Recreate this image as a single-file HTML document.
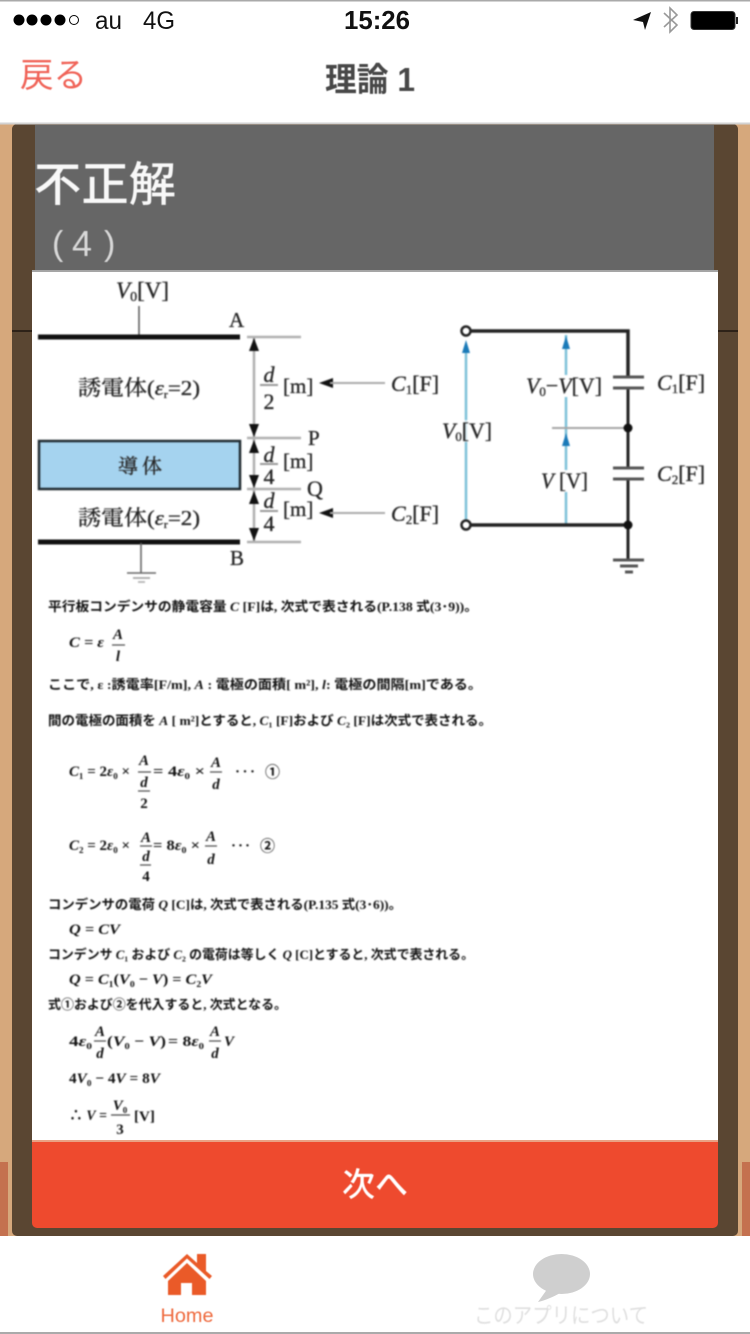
<!DOCTYPE html>
<html lang="ja">
<head>
<meta charset="utf-8">
<style>
html,body{margin:0;padding:0;width:750px;height:1334px;overflow:hidden;background:#fff}
svg{display:block;position:absolute;left:0;top:0}
text{font-family:"Liberation Sans","Noto Sans CJK JP",sans-serif}
.soft{filter:blur(.7px)}
.soft2{filter:blur(.4px)}
.s{font-family:"Liberation Serif","Noto Serif CJK SC","Noto Sans CJK JP",serif;fill:#222;stroke:#333;stroke-width:.35px}
.m{font-family:"Liberation Serif","Noto Sans CJK JP",serif;font-weight:bold;font-size:15px;fill:#111}
.t{font-family:"Liberation Serif","Noto Sans CJK JP",serif;font-weight:bold;font-size:13px;fill:#111}
.i{font-style:italic}
</style>
</head>
<body>
<svg width="750" height="1334" viewBox="0 0 750 1334" xmlns="http://www.w3.org/2000/svg">
  <!-- page background -->
  <rect width="750" height="1334" fill="#fff"/>
  <rect x="0" y="124" width="750" height="1113" fill="#d6a87c"/>
  <rect x="0" y="1162" width="8" height="75" fill="#c4714f"/>
  <rect x="742" y="1162" width="8" height="75" fill="#c4714f"/>
  <rect x="12" y="124" width="726" height="1112" rx="5" fill="#5a4632"/>
  <rect x="12" y="330" width="20" height="2" fill="#2e2218"/>
  <rect x="718" y="330" width="20" height="2" fill="#2e2218"/>
  <rect x="35" y="125" width="679" height="147" fill="#666"/>
  <rect x="32" y="270" width="686" height="3" fill="#a5a5a5"/>
  <rect x="32" y="272" width="686" height="870" fill="#fff"/>
  <rect x="32" y="1140" width="686" height="3" fill="#eaa184"/>
  <path d="M32 1142H718V1223a5 5 0 0 1-5 5H37a5 5 0 0 1-5-5Z" fill="#ee4a2e"/>

  <!-- status bar -->
  <rect width="750" height="1.5" fill="#aaa"/>
  <g fill="#000">
    <circle cx="19" cy="20" r="5.5"/><circle cx="32" cy="20" r="5.5"/><circle cx="46" cy="20" r="5.5"/><circle cx="60" cy="20" r="5.5"/>
  </g>
  <circle cx="74" cy="20" r="4.5" fill="none" stroke="#000" stroke-width="1"/>
  <text x="95" y="29" font-size="25" fill="#111" textLength="27" lengthAdjust="spacingAndGlyphs">au</text>
  <text x="143" y="29" font-size="25" fill="#111" textLength="32" lengthAdjust="spacingAndGlyphs">4G</text>
  <text x="344" y="29" font-size="26" font-weight="bold" fill="#111" textLength="66" lengthAdjust="spacingAndGlyphs">15:26</text>
  <path d="M633 20L651 12L645 30L643 22Z" fill="#111"/>
  <path d="M664 13L677 25L670 32V8L677 15L664 27" fill="none" stroke="#999" stroke-width="1.6"/>
  <rect x="691" y="11.500" width="44" height="18" rx="3" fill="#000" stroke="#333" stroke-width="1"/>
  <rect x="736" y="17" width="2" height="7" fill="#222"/>

  <!-- nav -->
  <g class="soft2">
    <text x="20" y="87" font-size="34" fill="#f0655a" textLength="67" lengthAdjust="spacingAndGlyphs">戻る</text>
    <text x="325" y="91" font-size="33" font-weight="bold" fill="#484848" textLength="90" lengthAdjust="spacingAndGlyphs">理論 1</text>
  </g>
  <rect x="0" y="122.500" width="750" height="2" fill="#d2d2d2"/>

  <!-- header text -->
  <g class="soft2">
    <text x="34" y="201" font-size="47" font-weight="500" fill="#f8f8f8" textLength="142" lengthAdjust="spacingAndGlyphs">不正解</text>
    <text x="52" y="255" font-size="34" fill="#d8d8d8">(</text>
    <text x="72" y="256" font-size="36" fill="#d8d8d8">4</text>
    <text x="104" y="255" font-size="34" fill="#d8d8d8">)</text>
  </g>

  <!-- diagram & explanation -->
  <g class="soft">
    <!-- left diagram -->
    <text class="s" x="116" y="298" font-size="23"><tspan class="i">V</tspan><tspan font-size="14" dy="3">0</tspan><tspan dy="-3">[V]</tspan></text>
    <line x1="139" y1="306" x2="139" y2="337" stroke="#555" stroke-width="1.500"/>
    <text class="s" x="229" y="327" font-size="21">A</text>
    <rect x="38" y="334.500" width="202" height="5" fill="#111"/>
    <g stroke="#b0b0b0" stroke-width="2.500">
      <line x1="247" y1="337" x2="301" y2="337"/>
      <line x1="247" y1="438" x2="301" y2="438"/>
      <line x1="247" y1="489" x2="301" y2="489"/>
      <line x1="247" y1="542" x2="301" y2="542"/>
      <line x1="254" y1="337" x2="254" y2="542"/>
    </g>
    <g fill="#111">
      <path d="M254 338l-5 13h10Z"/><path d="M254 437l-5-13h10Z"/>
      <path d="M254 440l-5 13h10Z"/><path d="M254 488l-5-13h10Z"/>
      <path d="M254 491l-5 13h10Z"/><path d="M254 541l-5-13h10Z"/>
      <path d="M319 383l14-5v10Z"/><path d="M319 513l14-5v10Z"/>
    </g>
    <rect x="39" y="441" width="201" height="48" fill="#a5d3ef" stroke="#1f2a30" stroke-width="2.500"/>
    <text x="140" y="473" font-size="20" text-anchor="middle" class="s" textLength="44" lengthAdjust="spacing">導体</text>
    <text class="s" x="78" y="395" font-size="21" textLength="122" lengthAdjust="spacingAndGlyphs">誘電体(<tspan class="i">ε</tspan><tspan font-size="11" dy="3">r</tspan><tspan dy="-3">=2)</tspan></text>
    <text class="s" x="78" y="525" font-size="21" textLength="122" lengthAdjust="spacingAndGlyphs">誘電体(<tspan class="i">ε</tspan><tspan font-size="11" dy="3">r</tspan><tspan dy="-3">=2)</tspan></text>

    <g stroke="#999" stroke-width="2">
      <line x1="260" y1="385" x2="278" y2="385"/>
      <line x1="260" y1="464" x2="278" y2="464"/>
      <line x1="260" y1="511" x2="278" y2="511"/>
      <line x1="330" y1="383" x2="385" y2="383" stroke="#aaa"/>
      <line x1="330" y1="513" x2="385" y2="513" stroke="#aaa"/>
    </g>
    <g font-size="22" text-anchor="middle">
      <text class="s i" x="269" y="382">d</text><text class="s" x="269" y="409">2</text>
      <text class="s i" x="269" y="462">d</text><text class="s" x="269" y="484">4</text>
      <text class="s i" x="269" y="508">d</text><text class="s" x="269" y="531">4</text>
    </g>
    <text class="s" x="283" y="393" font-size="21">[m]</text>
    <text class="s" x="283" y="468" font-size="21">[m]</text>
    <text class="s" x="283" y="516" font-size="21">[m]</text>
    <text class="s" x="391" y="391" font-size="22"><tspan class="i">C</tspan><tspan font-size="13" dy="3">1</tspan><tspan dy="-3">[F]</tspan></text>
    <text class="s" x="391" y="521" font-size="22"><tspan class="i">C</tspan><tspan font-size="13" dy="3">2</tspan><tspan dy="-3">[F]</tspan></text>
    <text class="s" x="308" y="445" font-size="21">P</text>
    <text class="s" x="307" y="496" font-size="22">Q</text>
    <text class="s" x="230" y="565" font-size="21">B</text>
    <rect x="38" y="539.500" width="202" height="5" fill="#111"/>
    <g stroke="#666" stroke-width="1.600">
      <line x1="141" y1="543" x2="141" y2="573"/>
      <line x1="127" y1="573" x2="156" y2="573"/>
      <line x1="133" y1="578" x2="150" y2="578" stroke="#999"/>
      <line x1="138" y1="582" x2="145" y2="582" stroke="#aaa"/>
    </g>

    <!-- right circuit -->
    <line x1="466" y1="345" x2="466" y2="521" stroke="#7cc0d8" stroke-width="2.500"/>
    <line x1="566" y1="335" x2="566" y2="525" stroke="#7cc0d8" stroke-width="2.500"/>
    <path d="M466 340l-4 13h8Z" fill="#1a7ab8"/>
    <path d="M566 336l-4 13h8Z" fill="#1a7ab8"/>
    <path d="M566 433l-4 13h8Z" fill="#1a7ab8"/>
    <line x1="552" y1="428" x2="628" y2="428" stroke="#a5a5a5" stroke-width="2"/>
    <g stroke="#222" fill="none">
      <path d="M471 331H628V377" stroke-width="3.500"/>
      <path d="M628 388V468" stroke-width="3"/>
      <path d="M628 479V560" stroke-width="3"/>
      <line x1="471" y1="525" x2="628" y2="525" stroke-width="3.500"/>
      <circle cx="466" cy="331" r="4.500" stroke-width="2.500" fill="#fff"/>
      <circle cx="466" cy="525" r="4.500" stroke-width="2.500" fill="#fff"/>
    </g>
    <g stroke="#555" stroke-width="3">
      <line x1="613" y1="377" x2="644" y2="377"/><line x1="613" y1="388" x2="644" y2="388"/>
      <line x1="613" y1="468" x2="644" y2="468"/><line x1="613" y1="479" x2="644" y2="479"/>
      <line x1="613" y1="560" x2="644" y2="560"/><line x1="620" y1="566" x2="638" y2="566"/><line x1="625" y1="572" x2="633" y2="572"/>
    </g>
    <circle cx="628" cy="428" r="4.500" fill="#111"/>
    <circle cx="628" cy="525" r="4.500" fill="#111"/>
    <rect x="526" y="375" width="77" height="22" fill="#fff"/>
    <rect x="541" y="470" width="48" height="22" fill="#fff"/>
    <rect x="442" y="420" width="51" height="22" fill="#fff" opacity=".7"/>
    <text class="s" x="442" y="438" font-size="22" textLength="50" lengthAdjust="spacingAndGlyphs"><tspan class="i">V</tspan><tspan font-size="13" dy="3">0</tspan><tspan dy="-3">[V]</tspan></text>
    <text class="s" x="526" y="393" font-size="22" textLength="76" lengthAdjust="spacingAndGlyphs"><tspan class="i">V</tspan><tspan font-size="13" dy="3">0</tspan><tspan dy="-3">−</tspan><tspan class="i">V</tspan>[V]</text>
    <text class="s" x="541" y="488" font-size="22" textLength="47" lengthAdjust="spacingAndGlyphs"><tspan class="i">V</tspan> [V]</text>
    <text class="s" x="657" y="390" font-size="22"><tspan class="i">C</tspan><tspan font-size="13" dy="3">1</tspan><tspan dy="-3">[F]</tspan></text>
    <text class="s" x="657" y="481" font-size="22"><tspan class="i">C</tspan><tspan font-size="13" dy="3">2</tspan><tspan dy="-3">[F]</tspan></text>

    <!-- explanation -->
    <text class="t" x="48" y="611" textLength="430" lengthAdjust="spacingAndGlyphs">平行板コンデンサの静電容量 <tspan class="i">C</tspan> [F]は, 次式で表される(P.138 式(3･9))。</text>
    <text class="m i" x="69" y="647" textLength="35" lengthAdjust="spacingAndGlyphs">C = ε</text>
    <text class="m i" x="118" y="639" text-anchor="middle">A</text>
    <line x1="112" y1="645" x2="125" y2="645" stroke="#444" stroke-width="1.200"/>
    <text class="m i" x="118" y="661" text-anchor="middle">l</text>
    <text class="t" x="48" y="689" textLength="434" lengthAdjust="spacingAndGlyphs">ここで, ε :誘電率[F/m], <tspan class="i">A</tspan> : 電極の面積[ m²], <tspan class="i">l</tspan>: 電極の間隔[m]である。</text>
    <text class="t" x="48" y="725" textLength="444" lengthAdjust="spacingAndGlyphs">間の電極の面積を <tspan class="i">A</tspan> [ m²]とすると, <tspan class="i">C</tspan>₁ [F]および <tspan class="i">C</tspan>₂ [F]は次式で表される。</text>

    <text class="m" x="69" y="776" textLength="61" lengthAdjust="spacingAndGlyphs"><tspan class="i">C</tspan>₁ = 2<tspan class="i">ε</tspan>₀ ×</text>
    <text class="m i" x="144" y="765" text-anchor="middle">A</text>
    <line x1="138" y1="772" x2="151" y2="772" stroke="#444" stroke-width="1.200"/>
    <text class="m i" x="144" y="787" text-anchor="middle">d</text>
    <line x1="138" y1="791" x2="150" y2="791" stroke="#444" stroke-width="1.200"/>
    <text class="m" x="144" y="808" text-anchor="middle">2</text>
    <text class="m" x="153" y="776" textLength="52" lengthAdjust="spacingAndGlyphs">= 4<tspan class="i">ε</tspan>₀ ×</text>
    <text class="m i" x="216" y="767" text-anchor="middle">A</text>
    <line x1="210" y1="772" x2="222" y2="772" stroke="#444" stroke-width="1.200"/>
    <text class="m i" x="216" y="789" text-anchor="middle">d</text>
    <text class="m" x="235" y="776" textLength="20">···</text>
    <text class="m" x="265" y="777" font-weight="normal">①</text>

    <text class="m" x="69" y="850" textLength="61" lengthAdjust="spacingAndGlyphs"><tspan class="i">C</tspan>₂ = 2<tspan class="i">ε</tspan>₀ ×</text>
    <text class="m i" x="146" y="842" text-anchor="middle">A</text>
    <line x1="140" y1="846" x2="152" y2="846" stroke="#444" stroke-width="1.200"/>
    <text class="m i" x="146" y="861" text-anchor="middle">d</text>
    <line x1="140" y1="865" x2="151" y2="865" stroke="#444" stroke-width="1.200"/>
    <text class="m" x="146" y="881" text-anchor="middle">4</text>
    <text class="m" x="153" y="850" textLength="47" lengthAdjust="spacingAndGlyphs">= 8<tspan class="i">ε</tspan>₀ ×</text>
    <text class="m i" x="211" y="841" text-anchor="middle">A</text>
    <line x1="205" y1="846" x2="217" y2="846" stroke="#444" stroke-width="1.200"/>
    <text class="m i" x="211" y="864" text-anchor="middle">d</text>
    <text class="m" x="231" y="850" textLength="19">···</text>
    <text class="m" x="260" y="851" font-weight="normal">②</text>

    <text class="t" x="48" y="909" textLength="354" lengthAdjust="spacingAndGlyphs">コンデンサの電荷 <tspan class="i">Q</tspan> [C]は, 次式で表される(P.135 式(3･6))。</text>
    <text class="m i" x="69" y="934" textLength="51" lengthAdjust="spacingAndGlyphs">Q = CV</text>
    <text class="t" x="48" y="959" textLength="426" lengthAdjust="spacingAndGlyphs">コンデンサ <tspan class="i">C</tspan>₁ および <tspan class="i">C</tspan>₂ の電荷は等しく <tspan class="i">Q</tspan> [C]とすると, 次式で表される。</text>
    <text class="m" x="69" y="984" textLength="143" lengthAdjust="spacingAndGlyphs"><tspan class="i">Q</tspan> = <tspan class="i">C</tspan>₁(<tspan class="i">V</tspan>₀ − <tspan class="i">V</tspan>) = <tspan class="i">C</tspan>₂<tspan class="i">V</tspan></text>
    <text class="t" x="48" y="1009" textLength="239" lengthAdjust="spacingAndGlyphs">式①および②を代入すると, 次式となる。</text>

    <text class="m" x="69" y="1046" textLength="23" lengthAdjust="spacingAndGlyphs">4<tspan class="i">ε</tspan>₀</text>
    <text class="m i" x="100" y="1036" text-anchor="middle">A</text>
    <line x1="94" y1="1041" x2="106" y2="1041" stroke="#444" stroke-width="1.200"/>
    <text class="m i" x="100" y="1058" text-anchor="middle">d</text>
    <text class="m" x="107" y="1046" textLength="59" lengthAdjust="spacingAndGlyphs">(<tspan class="i">V</tspan>₀ − <tspan class="i">V</tspan>)</text>
    <text class="m" x="168" y="1046" textLength="36" lengthAdjust="spacingAndGlyphs">= 8<tspan class="i">ε</tspan>₀</text>
    <text class="m i" x="215" y="1036" text-anchor="middle">A</text>
    <line x1="209" y1="1041" x2="221" y2="1041" stroke="#444" stroke-width="1.200"/>
    <text class="m i" x="215" y="1058" text-anchor="middle">d</text>
    <text class="m i" x="224" y="1046">V</text>
    <text class="m" x="69" y="1083" textLength="91" lengthAdjust="spacingAndGlyphs">4<tspan class="i">V</tspan>₀ − 4<tspan class="i">V</tspan> = 8<tspan class="i">V</tspan></text>
    <text class="m" x="69" y="1120" textLength="38" lengthAdjust="spacingAndGlyphs">∴ <tspan class="i">V</tspan> =</text>
    <text class="m" x="120" y="1110" text-anchor="middle"><tspan class="i">V</tspan>₀</text>
    <line x1="111" y1="1115" x2="130" y2="1115" stroke="#444" stroke-width="1.300"/>
    <text class="m" x="120" y="1134" text-anchor="middle">3</text>
    <text class="m" x="134" y="1121" font-size="13">[V]</text>
  </g>

  <!-- button -->
  <text class="soft2" x="375" y="1196" font-size="33" fill="#fff" text-anchor="middle" font-weight="500">次へ</text>

  <!-- tab bar -->
  <rect x="0" y="1236" width="750" height="98" fill="#fff"/>
  <g fill="#ea5a28" class="soft2">
    <path d="M163 1276L187 1254L197 1263V1254H206V1271L212 1276L209.500 1279L187 1258.500L165.500 1279Z"/>
    <path d="M168 1281L187 1263L206 1281V1295H192V1283H181V1295H168Z"/>
  </g>
  <text class="soft2" x="187" y="1322" font-size="19" fill="#ee6a3e" text-anchor="middle" textLength="53" lengthAdjust="spacingAndGlyphs">Home</text>
  <ellipse cx="561.500" cy="1274" rx="28.500" ry="20" fill="#cfcfcf"/>
  <path d="M548 1288L538 1302C546 1300 553 1297 560 1293Z" fill="#cfcfcf"/>
  <text class="soft2" x="474" y="1323" font-size="21.700" fill="#e0e0e0" textLength="174" lengthAdjust="spacingAndGlyphs">このアプリについて</text>
  <rect x="0" y="1332" width="750" height="2" fill="#aaa"/>
</svg>
</body>
</html>
